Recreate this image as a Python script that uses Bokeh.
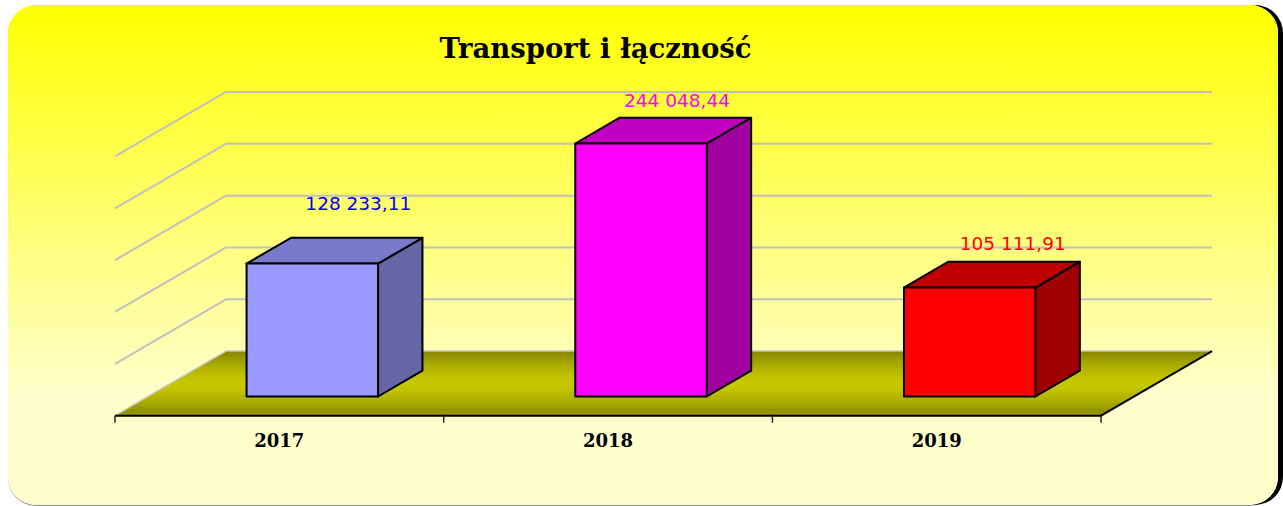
from bokeh.plotting import figure
from bokeh.models import Range1d
from bokeh.core.properties import value
from bokeh.embed import file_html
from bokeh.resources import INLINE

# ---- data
title_text = "Transport i łączność"
years = ["2017", "2018", "2019"]
amounts = [128233.11, 244048.44, 105111.91]
amount_labels = ["128 233,11", "244 048,44", "105 111,91"]
grid_values = [50000, 100000, 150000, 200000, 250000]

# ---- style
front_colors = ["#9999ff", "#ff00ff", "#ff0000"]
top_colors = ["#7a7acc", "#c000c0", "#c00000"]
side_colors = ["#6666a6", "#a000a0", "#a00000"]
label_colors = ["#0000ff", "#ff00ff", "#ff0000"]
label_dx = [46, 36, 43]
label_dy = [60, 43, 44.5]

# ---- geometry (pixels of the page)
W, H = 1270, 500
LEFT, TOP = 8, 5
CELL = 328.7
X0 = 114.5
BASE_Y = 396.0
PX_PER_UNIT = 253.0 / 244048.44
DEPTH_DX = 111.0 / CELL
DEPTH_DY = 64.5 / PX_PER_UNIT
FRONT_D = 0.297
BACK_D = 0.697
BAR_W = 0.4


def ux(px):
    return (px - X0) / CELL - 0.5


def uy(py):
    return (BASE_Y - py) / PX_PER_UNIT


def P(u, v, d):
    """floor depth d: 0 = front edge, 1 = back wall"""
    return u + DEPTH_DX * d, v + DEPTH_DY * (d - FRONT_D)


p = figure(
    width=W, height=H, output_backend="svg", toolbar_location=None,
    x_range=Range1d(ux(LEFT), ux(LEFT + W)),
    y_range=Range1d(uy(TOP + H), uy(TOP)),
    min_border=0, outline_line_color=None,
    background_fill_alpha=0, border_fill_alpha=0,
    x_axis_type=None, y_axis_type=None,
)
p.grid.visible = False
p.styles = {
    "background": "linear-gradient(#ffff00 0%, #ffffcc 78%, #ffffcc 100%)",
    "border-radius": "28px",
    "box-shadow": "5px 0 0 #000, 0 1px 0 #888",
    "margin-top": "5px",
    "margin-left": "8px",
}

n = len(years)
u_left = -0.5
u_right = n - 0.5

# grid lines: left wall and back wall
for g in grid_values:
    a = P(u_left, g, 0)
    b = P(u_left, g, 1)
    c = P(u_right, g, 1)
    p.line([a[0], b[0], c[0]], [a[1], b[1], c[1]], line_color="#c0c0c0", line_width=2, line_join="round")

# floor with vertical gradient
STEPS = 64


def floor_col(t):
    f = abs(2 * t - 1)
    low, high = (0xc8, 0xc8, 0x00), (0x85, 0x85, 0x00)
    return "#%02x%02x%02x" % tuple(int(low[i] + (high[i] - low[i]) * f ** 1.5) for i in range(3))


fx, fy, fc = [], [], []
for i in range(STEPS):
    d0 = i / STEPS
    d1 = min(1.0, (i + 1.5) / STEPS)
    a, b = P(u_left, 0, d0), P(u_right, 0, d0)
    c, e = P(u_right, 0, d1), P(u_left, 0, d1)
    fx.append([a[0], b[0], c[0], e[0]])
    fy.append([a[1], b[1], c[1], e[1]])
    fc.append(floor_col((i + 0.5) / STEPS))
p.patches(fx, fy, fill_color=fc, line_color=None)

# floor edges
a, b = P(u_left, 0, 0), P(u_left, 0, 1)
p.line([a[0], b[0]], [a[1], b[1]], line_color="#c8c8c8", line_width=1.5)
a, b = P(u_left, 0, 1), P(u_right, 0, 1)
p.line([a[0], b[0]], [a[1], b[1]], line_color="#b0b0a0", line_width=1.5)
a, b = P(u_left, 0, 0), P(u_right, 0, 0)
p.line([a[0], b[0]], [a[1], b[1]], line_color="#000000", line_width=2)
a, b = P(u_right, 0, 0), P(u_right, 0, 1)
p.line([a[0], b[0]], [a[1], b[1]], line_color="#000000", line_width=2)

# ticks
tick_len = 7 / PX_PER_UNIT
for i in range(n + 1):
    t = P(u_left + i, 0, 0)
    p.line([t[0], t[0]], [t[1], t[1] - tick_len], line_color="#222222", line_width=1.5)

# bars
for i, v in enumerate(amounts):
    l, r = i - BAR_W / 2, i + BAR_W / 2
    fl0, fr0 = P(l, 0, FRONT_D), P(r, 0, FRONT_D)
    fr1, fl1 = P(r, v, FRONT_D), P(l, v, FRONT_D)
    br0, br1 = P(r, 0, BACK_D), P(r, v, BACK_D)
    bl1 = P(l, v, BACK_D)
    kw = dict(line_color="#000000", line_width=2, line_join="round")
    p.patch([fr0[0], br0[0], br1[0], fr1[0]], [fr0[1], br0[1], br1[1], fr1[1]], fill_color=side_colors[i], **kw)
    p.patch([fl1[0], fr1[0], br1[0], bl1[0]], [fl1[1], fr1[1], br1[1], bl1[1]], fill_color=top_colors[i], **kw)
    p.patch([fl0[0], fr0[0], fr1[0], fl1[0]], [fl0[1], fr0[1], fr1[1], fl1[1]], fill_color=front_colors[i], **kw)
    # value label
    lab = P(float(i), v, FRONT_D)
    p.text([lab[0]], [lab[1]], text=[amount_labels[i]], text_color=label_colors[i],
           text_font=value("DejaVu Sans"), text_font_size="18.5px", text_align="center",
           text_baseline="middle", x_offset=label_dx[i], y_offset=-label_dy[i])
    # category label
    cat = P(float(i), 0, 0)
    p.text([cat[0]], [cat[1]], text=[years[i]], text_color="#000000",
           text_font=value("DejaVu Serif"), text_font_style="bold", text_font_size="18px",
           text_align="center", text_baseline="middle", y_offset=24)

# title
p.text([ux(595)], [uy(47.5)], text=[title_text], text_color="#000000",
       text_font=value("DejaVu Serif"), text_font_style="bold", text_font_size="27.5px",
       text_align="center", text_baseline="middle")

open("out.html", "w").write(file_html(p, INLINE))
